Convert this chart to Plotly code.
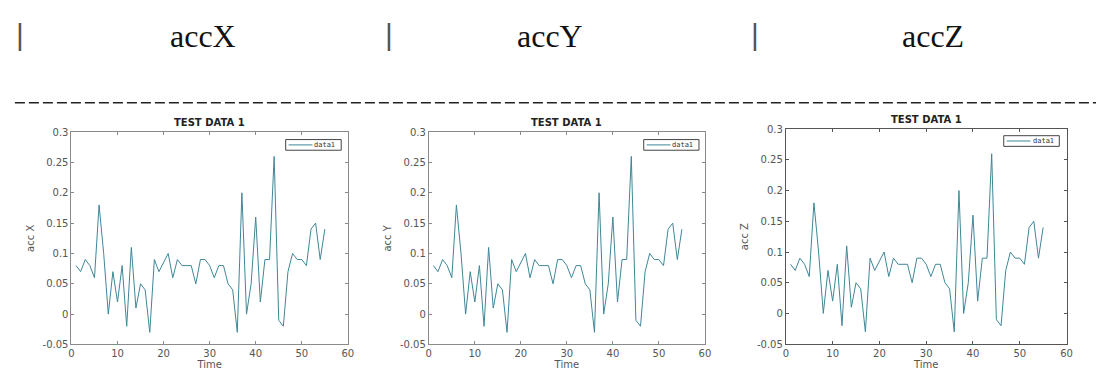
import plotly.graph_objects as go

# ---- data ----
time = list(range(1, 56))
acc_x = [0.08, 0.07, 0.09, 0.08, 0.06, 0.18, 0.10, 0.00, 0.07, 0.02,
         0.08, -0.02, 0.11, 0.01, 0.05, 0.04, -0.03, 0.09, 0.07, 0.085,
         0.10, 0.06, 0.09, 0.08, 0.08, 0.08, 0.05, 0.09, 0.09, 0.08,
         0.06, 0.08, 0.08, 0.05, 0.04, -0.03, 0.20, 0.00, 0.05, 0.16,
         0.02, 0.09, 0.09, 0.26, -0.01, -0.02, 0.07, 0.10, 0.09, 0.09,
         0.08, 0.14, 0.15, 0.09, 0.14]
acc_y = [0.08, 0.07, 0.09, 0.08, 0.06, 0.18, 0.10, 0.00, 0.07, 0.02,
         0.08, -0.02, 0.11, 0.01, 0.05, 0.04, -0.03, 0.09, 0.07, 0.085,
         0.10, 0.06, 0.09, 0.08, 0.08, 0.08, 0.05, 0.09, 0.09, 0.08,
         0.06, 0.08, 0.08, 0.05, 0.04, -0.03, 0.20, 0.00, 0.05, 0.16,
         0.02, 0.09, 0.09, 0.26, -0.01, -0.02, 0.07, 0.10, 0.09, 0.09,
         0.08, 0.14, 0.15, 0.09, 0.14]
acc_z = [0.08, 0.07, 0.09, 0.08, 0.06, 0.18, 0.10, 0.00, 0.07, 0.02,
         0.08, -0.02, 0.11, 0.01, 0.05, 0.04, -0.03, 0.09, 0.07, 0.085,
         0.10, 0.06, 0.09, 0.08, 0.08, 0.08, 0.05, 0.09, 0.09, 0.08,
         0.06, 0.08, 0.08, 0.05, 0.04, -0.03, 0.20, 0.00, 0.05, 0.16,
         0.02, 0.09, 0.09, 0.26, -0.01, -0.02, 0.07, 0.10, 0.09, 0.09,
         0.08, 0.14, 0.15, 0.09, 0.14]

header_labels = ["accX", "accY", "accZ"]
plot_title = "TEST DATA 1"
y_titles = ["acc X", "acc Y", "acc Z"]
x_title = "Time"
series_name = "data1"
x_ticks = [0, 10, 20, 30, 40, 50, 60]
x_tick_labels = ["0", "10", "20", "30", "40", "50", "60"]
y_ticks = [-0.05, 0, 0.05, 0.1, 0.15, 0.2, 0.25, 0.3]
y_tick_labels = ["-0.05", "0", "0.05", "0.1", "0.15", "0.2", "0.25", "0.3"]

W, H = 1102, 374
LINE_COLOR = "#3f8797"
TICK_FONT = dict(family="DejaVu Sans", size=10, color="#555555")

# panel geometry in pixels: (left, right, top, bottom)
panels = [(69, 347.7, 130.3, 349.7),
          (429.3, 707.7, 130.3, 349.7),
          (789.3, 1072.3, 127.3, 349.3)]
# legend boxes in pixels: (left, top, right, bottom)
legend_boxes = [(285, 138, 341, 149), (646, 138, 701.7, 149), (1009, 134, 1065, 145)]
axis_colors = ["#8a8a8a", "#8a8a8a", "#555555"]

fig = go.Figure()
series = [acc_x, acc_y, acc_z]
for i, ys in enumerate(series):
    k = "" if i == 0 else str(i + 1)
    fig.add_trace(go.Scatter(
        x=time, y=ys, mode="lines", name=series_name,
        line=dict(color=LINE_COLOR, width=1),
        xaxis="x" + k, yaxis="y" + k, showlegend=False,
    ))

layout = dict(
    width=W, height=H,
    margin=dict(l=0, r=0, t=0, b=0),
    paper_bgcolor="white", plot_bgcolor="white",
    showlegend=False,
)
annotations = []
shapes = []
for i, (l, r, t, b) in enumerate(panels):
    k = "" if i == 0 else str(i + 1)
    ax_common = dict(
        showline=True, linecolor=axis_colors[i], linewidth=1, mirror="ticks",
        ticks="inside", ticklen=3, tickcolor=axis_colors[i],
        showgrid=False, zeroline=False, tickfont=TICK_FONT,
    )
    layout["xaxis" + k] = dict(
        ax_common, domain=[l / W, r / W], range=[0, 60],
        tickvals=x_ticks, ticktext=x_tick_labels,
        anchor="y" + k,
        title=dict(text=x_title, font=dict(family="DejaVu Sans", size=10, color="#555555"),
                   standoff=0),
    )
    layout["yaxis" + k] = dict(
        ax_common, domain=[1 - b / H, 1 - t / H], range=[-0.05, 0.3],
        tickvals=y_ticks, ticktext=y_tick_labels,
        anchor="x" + k,
        title=dict(text=y_titles[i], font=dict(family="DejaVu Sans", size=10, color="#555555"),
                   standoff=6),
    )
    annotations.append(dict(
        text="<b>" + plot_title + "</b>", xref="paper", yref="paper",
        x=(l + r) / 2 / W, y=1 - (t - 2) / H, xanchor="center", yanchor="bottom",
        showarrow=False, font=dict(family="DejaVu Sans", size=10, color="#222222"),
    ))
    # legend box (MATLAB style)
    bl, bt, br, bb = legend_boxes[i]
    shapes.append(dict(
        type="rect", xref="paper", yref="paper",
        x0=bl / W, x1=br / W, y0=1 - bb / H, y1=1 - bt / H,
        line=dict(color="#444444", width=1), fillcolor="white", layer="below",
    ))
    ym = 1 - (bt + bb) / 2 / H
    shapes.append(dict(
        type="line", xref="paper", yref="paper",
        x0=(bl + 3) / W, x1=(bl + 27) / W, y0=ym, y1=ym,
        line=dict(color=LINE_COLOR, width=1), layer="above",
    ))
    annotations.append(dict(
        text=series_name, xref="paper", yref="paper",
        x=(bl + 28) / W, y=ym, xanchor="left", yanchor="middle",
        showarrow=False, borderpad=0,
        font=dict(family="DejaVu Sans Mono", size=7, color="#333333"),
    ))

# header row of the table
header_x = [202, 551, 938]
bar_x = [17, 389, 758]
for hx, lab in zip(header_x, header_labels):
    annotations.append(dict(
        text=lab, xref="paper", yref="paper", x=hx / W, y=1 - 31 / H,
        xanchor="center", yanchor="middle", showarrow=False,
        font=dict(family="Liberation Serif", size=32, color="#111111"),
    ))
for bx in bar_x:
    annotations.append(dict(
        text="|", xref="paper", yref="paper", x=bx / W, y=1 - 29 / H,
        xanchor="center", yanchor="middle", showarrow=False,
        font=dict(family="Liberation Sans", size=30, color="#555555"),
    ))
shapes.append(dict(
    type="line", xref="paper", yref="paper",
    x0=12 / W, x1=1.0, y0=1 - 100 / H, y1=1 - 100 / H,
    line=dict(color="#222222", width=1.5, dash="10px,4px"),
))
layout["annotations"] = annotations
layout["shapes"] = shapes

fig.update_layout(**layout)
fig.write_html(
    "out.html",
    config={"displayModeBar": False},
    post_script="document.body.style.margin='0';document.body.style.padding='0';",
)
